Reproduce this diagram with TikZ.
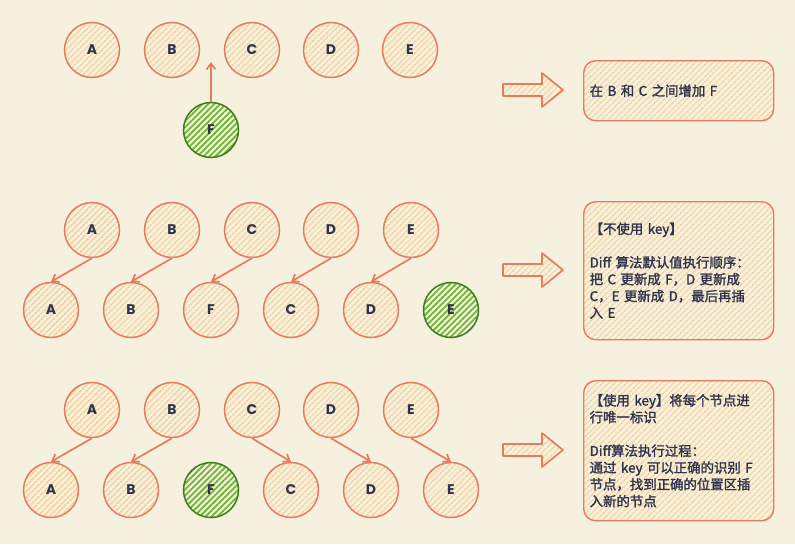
\documentclass[tikz,border=0pt]{standalone}
\usepackage{fontspec}
\setmainfont{Noto Sans CJK SC}[FakeBold=1.6]
\newfontfamily\letterfont{Poppins}
\usetikzlibrary{positioning}
\usetikzlibrary{arrows.meta}
\usetikzlibrary{patterns.meta}
\definecolor{bgcol}{RGB}{245,241,222}
\definecolor{linecol}{RGB}{229,124,96}
\definecolor{hatchcol}{RGB}{245,208,152}
\definecolor{greenline}{RGB}{56,128,24}
\definecolor{greenhatch}{RGB}{112,182,52}
\definecolor{inkcol}{RGB}{48,50,78}
\tikzset{
    mynode/.style = {circle, draw=linecol, line width=1.5pt, minimum size=55pt, inner sep=0pt, pattern={Lines[angle=45,distance=4pt,line width=1.6pt]}, pattern color=hatchcol, text=inkcol, font=\letterfont\bfseries\fontsize{14}{14}\selectfont},
    mynodeg/.style = {mynode, draw=greenline, pattern={Lines[angle=45,distance=4.2pt,line width=1.8pt]}, pattern color=greenhatch},
    edgen/.style = {-{Straight Barb[length=6pt,width=9pt]}, line width=1.7pt, draw=linecol},
    notebox/.style = {rectangle, rounded corners=12pt, draw=linecol, line width=1.4pt, pattern={Lines[angle=45,distance=4pt,line width=1.3pt]}, pattern color=hatchcol, anchor=north west, minimum width=190pt, text width=178pt, align=left, inner sep=0pt, text=inkcol, font=\fontsize{13.4}{16.8}\selectfont},
    bigarrow/.style = {draw=linecol, line width=1.7pt, line join=round, pattern={Lines[angle=45,distance=4pt,line width=1.3pt]}, pattern color=hatchcol}
}

\begin{document}
\begin{tikzpicture}[x=1pt,y=-1pt]
\fill[bgcol] (0,0) rectangle (795,544);
\useasboundingbox (0,0) rectangle (795,544);
% insert F
\node[mynode] at (92,50) (a) {A};
\node[mynode] at (172,50) (b) {B};
\node[mynode] at (252,50) (c) {C};
\node[mynode] at (331,50) (d) {D};
\node[mynode] at (410,50) (e) {E};
\node[mynodeg] at (211,130) (f) {F};
\coordinate (gap) at (211,62);
\draw[edgen] (f.north) -- (gap);
%
% without key
\node[mynode] at (92,230) (ua) {A};
\node[mynode] at (172,230) (ub) {B};
\node[mynode] at (252,230) (uc) {C};
\node[mynode] at (331,230) (ud) {D};
\node[mynode] at (411,230) (ue) {E};
\node[mynode] at (51,310) (la) {A};
\node[mynode] at (131,310) (lb) {B};
\node[mynode] at (211,310) (lf) {F};
\node[mynode] at (291,310) (lc) {C};
\node[mynode] at (371,310) (ld) {D};
\node[mynodeg] at (451,310) (le) {E};
\draw[edgen] (ua.south) -- (la.north);
\draw[edgen] (ub.south) -- (lb.north);
\draw[edgen] (uc.south) -- (lf.north);
\draw[edgen] (ud.south) -- (lc.north);
\draw[edgen] (ue.south) -- (ld.north);
%
% with key
\node[mynode] at (92,410) (pa) {A};
\node[mynode] at (172,410) (pb) {B};
\node[mynode] at (252,410) (pc) {C};
\node[mynode] at (331,410) (pd) {D};
\node[mynode] at (411,410) (pe) {E};
\node[mynode] at (51,490) (qa) {A};
\node[mynode] at (131,490) (qb) {B};
\node[mynodeg] at (211,490) (qf) {F};
\node[mynode] at (291,490) (qc) {C};
\node[mynode] at (371,490) (qd) {D};
\node[mynode] at (451,490) (qe) {E};
\draw[edgen] (pa.south) -- (qa.north);
\draw[edgen] (pb.south) -- (qb.north);
\draw[edgen] (pc.south) -- (qc.north);
\draw[edgen] (pd.south) -- (qd.north);
\draw[edgen] (pe.south) -- (qe.north);
%
% block arrows
\foreach \y in {90,270,450}
  \draw[bigarrow] (503,\y-6) -- (542,\y-6) -- (542,\y-17) -- (563,\y) -- (542,\y+17) -- (542,\y+6) -- (503,\y+6) -- cycle;
%
% notes
\node[notebox, minimum height=60pt] at (583,60) (note1) {在 B 和 C 之间增加 F};
\node[notebox, minimum height=138pt] at (583,201) (note2) {【不使用 key】\\[16.8pt]
Diff 算法默认值执行顺序：\\
把 C 更新成 F，D 更新成\\
C，E 更新成 D，最后再插\\
入 E};
\node[notebox, minimum height=140pt] at (583,380) (note3) {【使用 key】将每个节点进\\
行唯一标识\\[16.8pt]
Diff算法执行过程：\\
通过 key 可以正确的识别 F\\
节点，找到正确的位置区插\\
入新的节点};
\end{tikzpicture}
\end{document}
